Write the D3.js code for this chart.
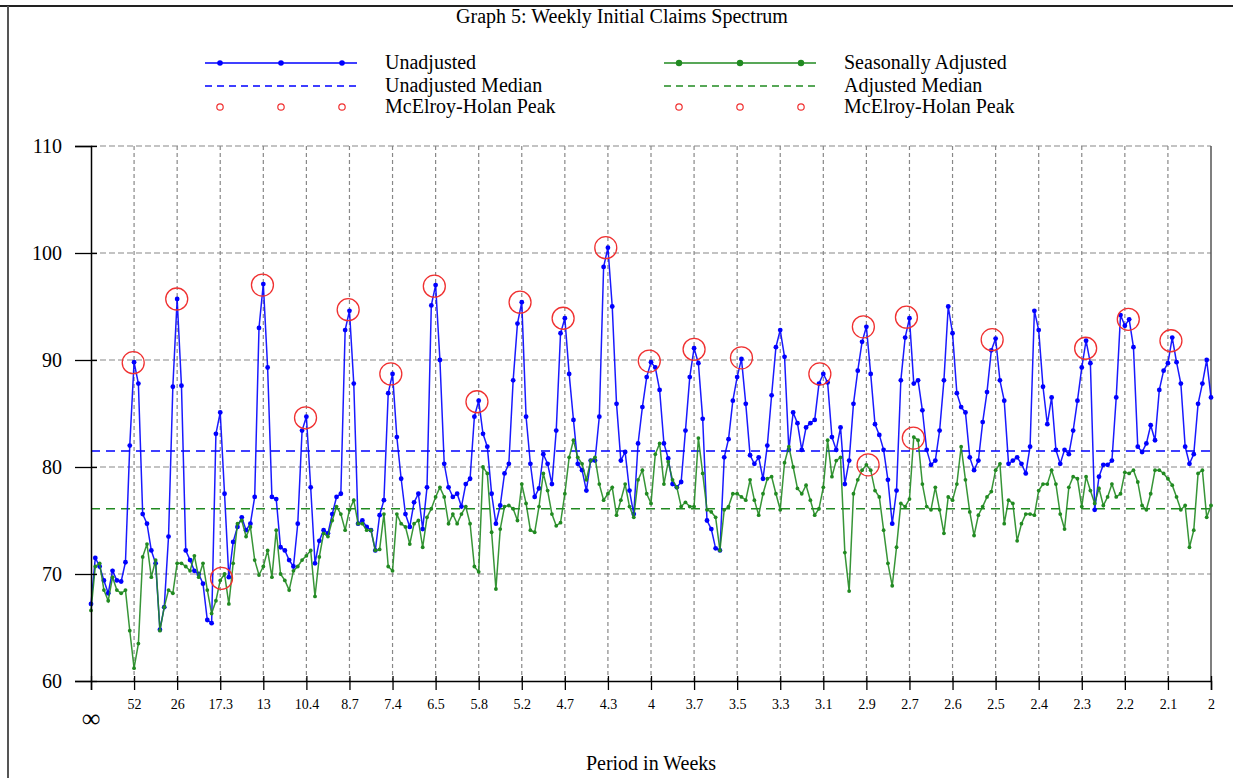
<!DOCTYPE html>
<html>
<head>
<meta charset="utf-8">
<script src="https://cdn.jsdelivr.net/npm/d3@7"></script>
<style>
  body { margin: 0; background: #fff; }
  text { font-family: "Liberation Serif", "Times New Roman", serif; fill: #000; }
</style>
</head>
<body>
<svg id="chart" width="1233" height="778"></svg>
<script>
// period labels for harmonics 1..26 of the annual cycle
var periodLabels = ["52", "26", "17.3", "13", "10.4", "8.7", "7.4", "6.5", "5.8", "5.2", "4.7", "4.3", "4",
    "3.7", "3.5", "3.3", "3.1", "2.9", "2.7", "2.6", "2.5", "2.4", "2.3", "2.2", "2.1", "2"];
var yTicks = [60, 70, 80, 90, 100, 110];

// spectrum values, 10 points per harmonic (cycles per year 0..26)
var unadjusted = [
    67.2, 71.5, 70.7, 69.4, 68.2, 70.3, 69.4, 69.3, 71.1, 82.0,
    89.8, 87.8, 75.6, 74.7, 72.2, 71.0, 64.8, 66.9, 73.5, 87.5,
    95.7, 87.6, 72.2, 71.3, 70.3, 70.0, 69.1, 65.7, 65.4, 83.1,
    85.1, 77.5, 69.7, 73.0, 74.4, 75.3, 74.1, 74.7, 77.2, 93.0,
    97.1, 89.3, 77.2, 77.0, 72.5, 72.2, 71.3, 70.7, 74.7, 83.4,
    84.7, 78.1, 71.0, 73.1, 74.1, 73.8, 75.6, 77.2, 77.5, 92.8,
    94.6, 87.8, 74.7, 75.0, 74.4, 74.1, 72.2, 75.5, 76.9, 86.9,
    88.7, 82.8, 78.9, 75.6, 74.4, 76.7, 77.5, 74.2, 78.1, 95.1,
    97.0, 90.0, 80.3, 78.1, 77.2, 77.5, 76.3, 78.4, 78.9, 84.7,
    86.2, 83.1, 81.9, 77.5, 74.7, 76.4, 79.4, 80.3, 88.1, 93.4,
    95.4, 84.7, 80.3, 77.2, 78.0, 81.2, 80.3, 78.4, 83.4, 92.5,
    93.9, 88.7, 84.4, 80.3, 79.7, 77.8, 80.6, 80.6, 84.7, 98.7,
    100.5, 95.0, 85.9, 80.6, 81.4, 77.8, 75.6, 82.2, 85.6, 88.4,
    89.8, 89.3, 87.2, 82.2, 80.8, 78.4, 78.1, 78.6, 83.4, 88.4,
    91.1, 89.7, 84.5, 75.0, 74.2, 72.4, 72.2, 80.9, 82.6, 86.2,
    88.4, 90.1, 85.9, 81.1, 80.3, 80.9, 78.9, 82.0, 86.7, 91.2,
    92.8, 90.3, 81.6, 85.1, 84.1, 81.6, 83.7, 84.1, 84.4, 87.8,
    88.7, 87.9, 82.8, 81.6, 83.7, 78.4, 80.6, 85.9, 89.0, 91.7,
    93.1, 88.7, 84.0, 83.0, 81.6, 78.8, 74.7, 77.8, 88.1, 92.1,
    93.9, 87.8, 88.1, 85.3, 81.6, 80.2, 80.6, 83.4, 88.1, 95.0,
    92.5, 86.9, 85.6, 85.1, 80.9, 79.7, 80.6, 84.2, 87.0, 90.9,
    92.0, 88.1, 86.2, 80.3, 80.6, 80.9, 80.3, 79.4, 81.9, 94.6,
    92.8, 87.5, 84.0, 86.5, 81.6, 80.3, 81.6, 81.2, 83.4, 86.2,
    89.3, 91.8, 89.7, 76.0, 79.1, 80.2, 80.2, 80.6, 86.5, 94.2,
    93.2, 93.8, 91.2, 81.9, 81.4, 82.2, 83.9, 82.5, 87.2, 89.0,
    89.7, 92.1, 89.8, 87.8, 81.9, 80.3, 81.2, 85.9, 87.8, 90.0,
    86.5
];
var adjusted = [
    66.6, 70.7, 71.0, 68.5, 67.5, 69.7, 68.5, 68.2, 68.5, 64.7,
    61.2, 63.5, 71.6, 72.8, 69.7, 71.3, 64.7, 66.9, 68.5, 68.2,
    71.0, 71.0, 70.7, 70.3, 71.7, 69.7, 71.0, 68.5, 66.3, 67.5,
    69.4, 70.0, 67.2, 71.0, 74.7, 75.0, 73.5, 74.4, 71.3, 69.9,
    70.7, 72.2, 69.7, 74.1, 70.0, 69.4, 68.5, 70.3, 70.7, 71.3,
    71.7, 72.2, 67.9, 71.6, 73.8, 73.5, 75.0, 76.3, 75.6, 74.1,
    76.0, 76.9, 74.7, 74.7, 74.1, 74.1, 72.2, 72.3, 75.6, 70.7,
    70.3, 75.6, 74.7, 74.4, 72.8, 74.7, 75.0, 72.5, 75.3, 76.1,
    77.2, 78.1, 77.2, 74.7, 75.6, 74.7, 75.6, 76.3, 74.7, 70.7,
    70.2, 80.0, 79.4, 73.9, 68.6, 74.2, 76.3, 76.4, 76.1, 75.0,
    78.4, 76.6, 74.1, 73.9, 76.3, 79.4, 77.8, 75.6, 74.5, 74.8,
    77.5, 80.9, 82.5, 80.9, 80.3, 78.8, 80.6, 80.9, 78.4, 76.9,
    77.5, 78.1, 75.5, 76.9, 78.4, 76.3, 75.3, 78.8, 79.7, 77.5,
    76.6, 81.2, 82.2, 78.4, 80.5, 78.8, 78.1, 76.3, 76.7, 76.3,
    76.3, 82.7, 79.4, 76.0, 75.8, 75.3, 72.2, 76.0, 76.3, 77.5,
    77.5, 77.2, 76.9, 78.8, 76.9, 75.5, 77.5, 78.9, 79.1, 77.5,
    76.0, 80.4, 81.9, 80.0, 78.0, 77.5, 78.3, 76.9, 75.5, 76.1,
    78.1, 82.5, 79.1, 80.6, 80.9, 72.0, 68.4, 77.5, 78.8, 79.7,
    80.2, 79.7, 77.8, 77.2, 74.1, 71.0, 68.9, 72.5, 76.6, 76.3,
    77.0, 82.8, 82.5, 78.4, 76.3, 76.0, 78.1, 76.0, 73.8, 77.2,
    76.9, 78.4, 81.9, 78.8, 75.8, 73.6, 75.5, 76.3, 77.2, 77.7,
    79.7, 80.3, 74.7, 76.9, 76.6, 73.1, 74.7, 75.6, 75.6, 75.5,
    77.8, 78.4, 78.4, 79.7, 78.4, 75.6, 74.2, 78.1, 79.1, 78.9,
    76.3, 79.1, 77.8, 76.6, 78.0, 76.4, 77.2, 78.4, 77.2, 77.5,
    79.5, 79.4, 79.7, 78.6, 76.4, 76.0, 77.5, 79.7, 79.7, 79.4,
    78.9, 78.3, 77.2, 76.0, 76.4, 72.5, 74.1, 79.4, 79.7, 75.3,
    76.4
];
var unadjustedMedian = 81.5;
var adjustedMedian = 76.1;

// McElroy-Holan peaks (position in cycles per year, value)
var unadjPeakFreq = [0.98, 1.99, 3.98, 4.98, 5.97, 6.96, 7.97, 8.96, 9.96, 10.96, 11.95,
    12.96, 14.0, 15.1, 16.92, 17.93, 18.93, 20.92, 23.09, 24.08, 25.07];
var unadjPeakVal = [89.75, 95.7, 97.0, 84.6, 94.7, 88.7, 96.9, 86.1, 95.4, 93.9, 100.5,
    89.9, 91.0, 90.2, 88.7, 93.1, 94.0, 91.9, 91.1, 93.8, 91.8];
var adjPeakFreq = [3.03, 18.04, 19.09];
var adjPeakVal = [69.6, 80.2, 82.7];

var BLUE = "#0000ff", GREEN = "#218a21", RED = "#f03030";
var pointsPerCycle = 10;

var svg = d3.select("#chart"),
    margin = { top: 146, right: 22, bottom: 97, left: 91 },
    width = +svg.attr("width") - margin.left - margin.right,
    height = +svg.attr("height") - margin.top - margin.bottom;

// page frame
svg.append("line").attr("x1", 0).attr("x2", 1233).attr("y1", 6).attr("y2", 6)
    .attr("stroke", "#222").attr("stroke-width", 2);
svg.append("line").attr("x1", 8).attr("x2", 8).attr("y1", 6).attr("y2", 778)
    .attr("stroke", "#555").attr("stroke-width", 2);

svg.append("text").attr("x", 622).attr("y", 23).attr("text-anchor", "middle")
    .style("font-size", "20px").text("Graph 5: Weekly Initial Claims Spectrum");

var g = svg.append("g").attr("transform", "translate(" + margin.left + "," + margin.top + ")");

var x = d3.scaleLinear().domain([0, 26]).range([0, width]);
var y = d3.scaleLinear().domain([60, 110]).range([height, 0]);

// grid
g.selectAll(".hgrid").data(yTicks.slice(1)).enter().append("line")
    .attr("x1", 0).attr("x2", width)
    .attr("y1", function(d) { return y(d); }).attr("y2", function(d) { return y(d); })
    .attr("stroke", "#888").attr("stroke-width", 1.2).attr("stroke-dasharray", "6,3");
g.selectAll(".vgrid").data(d3.range(1, 26)).enter().append("line")
    .attr("x1", function(d) { return x(d); }).attr("x2", function(d) { return x(d); })
    .attr("y1", 0).attr("y2", height)
    .attr("stroke", "#888").attr("stroke-width", 1.2).attr("stroke-dasharray", "4,3");
g.append("line").attr("x1", width).attr("x2", width).attr("y1", 0).attr("y2", height)
    .attr("stroke", "#555").attr("stroke-width", 1.5);

// medians
g.append("line").attr("x1", 0).attr("x2", width)
    .attr("y1", y(unadjustedMedian)).attr("y2", y(unadjustedMedian))
    .attr("stroke", BLUE).attr("stroke-width", 1.6).attr("stroke-dasharray", "9,6");
g.append("line").attr("x1", 0).attr("x2", width)
    .attr("y1", y(adjustedMedian)).attr("y2", y(adjustedMedian))
    .attr("stroke", GREEN).attr("stroke-width", 1.6).attr("stroke-dasharray", "9,6");

var line = d3.line()
    .x(function(d, i) { return x(i / pointsPerCycle); })
    .y(function(d) { return y(d); });

function drawSeries(data, color, r) {
    g.append("path").datum(data)
        .attr("fill", "none").attr("stroke", color).attr("stroke-width", 1.5)
        .attr("stroke-opacity", 0.9).attr("d", line);
    g.append("g").selectAll("circle").data(data).enter().append("circle")
        .attr("cx", function(d, i) { return x(i / pointsPerCycle); })
        .attr("cy", function(d) { return y(d); })
        .attr("r", r).attr("fill", color);
}
drawSeries(unadjusted, BLUE, 2.4);
drawSeries(adjusted, GREEN, 1.9);

// peak circles
function drawPeaks(freq, vals) {
    g.append("g").selectAll("circle").data(freq).enter().append("circle")
        .attr("cx", function(d) { return x(d); })
        .attr("cy", function(d, i) { return y(vals[i]); })
        .attr("r", 11).attr("fill", "none").attr("stroke", RED).attr("stroke-width", 1.3);
}
drawPeaks(unadjPeakFreq, unadjPeakVal);
drawPeaks(adjPeakFreq, adjPeakVal);

// axes
var yAxis = g.append("g").call(d3.axisLeft(y).tickValues(yTicks).tickSize(16).tickPadding(13));
yAxis.select(".domain").attr("stroke", "#000").attr("stroke-width", 1.5);
yAxis.selectAll(".tick line").attr("x1", 6).attr("stroke-width", 1.3);
yAxis.selectAll(".tick text").style("font-size", "20px").style("font-family", "Liberation Serif, serif");

var xAxis = g.append("g").attr("transform", "translate(0," + height + ")")
    .call(d3.axisBottom(x).tickValues(d3.range(0, 27)).tickSize(9).tickPadding(9)
        .tickFormat(function(d) { return d === 0 ? "" : periodLabels[d - 1]; }));
xAxis.select(".domain").attr("stroke", "#000").attr("stroke-width", 1.5);
xAxis.selectAll(".tick line").attr("y1", -5).attr("stroke-width", 1.3);
xAxis.selectAll(".tick text").style("font-size", "14px").style("font-family", "Liberation Serif, serif");

g.append("text").attr("x", x(0)).attr("y", height + 46).attr("text-anchor", "middle")
    .style("font-size", "26px").text("\u221e");

svg.append("text").attr("x", 651).attr("y", 770).attr("text-anchor", "middle")
    .style("font-size", "20px").text("Period in Weeks");

// legend
var legendCols = [
    { x0: 205, x1: 357, color: BLUE, r: 2.8, labels: ["Unadjusted", "Unadjusted Median", "McElroy-Holan Peak"] },
    { x0: 664, x1: 816, color: GREEN, r: 3.2, labels: ["Seasonally Adjusted", "Adjusted Median", "McElroy-Holan Peak"] }
];
var rowY = [63, 86, 107];
legendCols.forEach(function(c) {
    var dots = [c.x0 + 15, (c.x0 + c.x1) / 2, c.x1 - 15];
    svg.append("line").attr("x1", c.x0).attr("x2", c.x1).attr("y1", rowY[0]).attr("y2", rowY[0])
        .attr("stroke", c.color).attr("stroke-width", 1.6);
    dots.forEach(function(d) {
        svg.append("circle").attr("cx", d).attr("cy", rowY[0]).attr("r", c.r).attr("fill", c.color);
        svg.append("circle").attr("cx", d).attr("cy", rowY[2]).attr("r", 3.2)
            .attr("fill", "none").attr("stroke", RED).attr("stroke-width", 1.2);
    });
    svg.append("line").attr("x1", c.x0).attr("x2", c.x1).attr("y1", rowY[1]).attr("y2", rowY[1])
        .attr("stroke", c.color).attr("stroke-width", 1.6).attr("stroke-dasharray", "7,5");
    c.labels.forEach(function(t, i) {
        svg.append("text").attr("x", c.x1 + 28).attr("y", rowY[i] + 6)
            .style("font-size", "20px").text(t);
    });
});
</script>
</body>
</html>
